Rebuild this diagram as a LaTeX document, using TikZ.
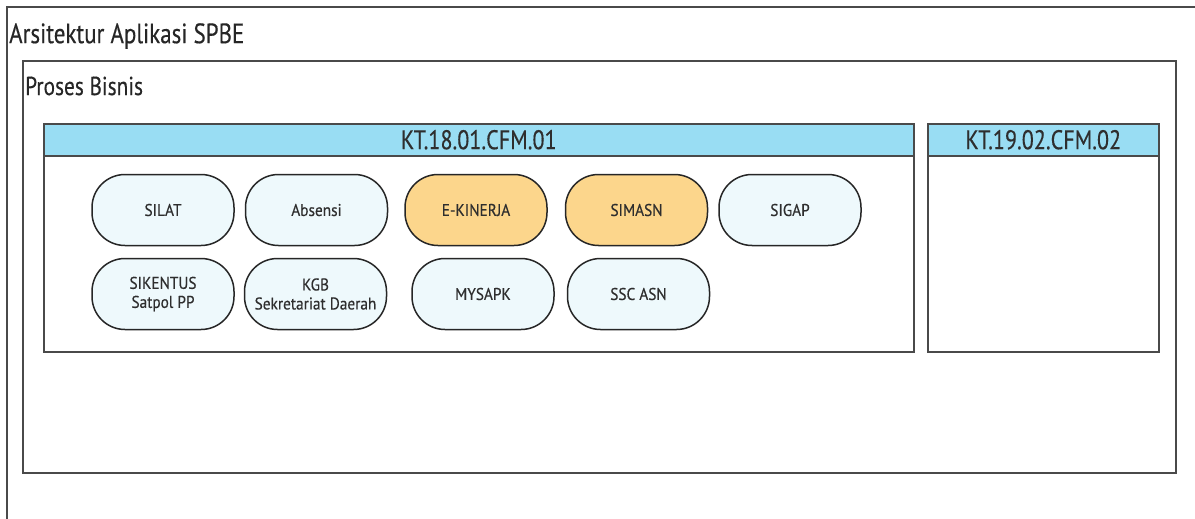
\documentclass[tikz,border=0pt]{standalone}
\usepackage{fontspec}
\setmainfont{PT Sans}[FakeStretch=0.82, FakeBold=0.3]
\newfontfamily\appfont{PT Sans}[FakeStretch=0.9, FakeBold=0.4]
\usepackage{xcolor}
\usetikzlibrary{positioning}

\definecolor{hdrblue}{HTML}{99DDF3}
\definecolor{appfill}{HTML}{EEF9FC}
\definecolor{appgold}{HTML}{FCD68C}
\definecolor{linegray}{HTML}{4A4A4A}
\definecolor{txtgray}{HTML}{2E2E2E}

\begin{document}
\begin{tikzpicture}[
  x=1pt, y=-1pt,
  frame/.style={draw=linegray, line width=1.6pt, inner sep=0pt, anchor=north west},
  cfmbox/.style={draw=linegray, line width=1.5pt, fill=white, inner sep=0pt, anchor=north west, minimum height=228pt},
  cfmhead/.style={draw=linegray, line width=1.5pt, fill=hdrblue, inner sep=0pt, anchor=north west, minimum height=32pt, font=\fontsize{27}{29}\selectfont, text=txtgray},
  app/.style={rectangle, draw=black!85, line width=1.5pt, fill=appfill, rounded corners=33pt, minimum width=142pt, minimum height=71pt, inner sep=2pt, align=center, font=\appfont\fontsize{17}{19}\selectfont, text=txtgray},
  appkey/.style={app, fill=appgold},
  title/.style={anchor=west, inner sep=0pt, text=black!85},
]
  \useasboundingbox (0,0) rectangle (1195,519);

  % outer frame, cut by the page on the right and bottom
  \coordinate (oBL) at (7,519);
  \coordinate (oTL) at (7,7);
  \coordinate (oTR) at (1195,7);
  \draw[linegray, line width=1.8pt] (oBL) -- (oTL) -- (oTR);
  \node[title, font=\fontsize{28}{30}\selectfont] (ttl) at (9,36) {Arsitektur Aplikasi SPBE};

  % business process
  \node[frame, minimum width=1153pt, minimum height=412pt] (pb) at (22,60) {};
  \node[title, font=\fontsize{26}{28}\selectfont] (pbl) at (25,86) {Proses Bisnis};

  % capability groups
  \node[cfmbox, minimum width=870pt] (c1) at (43,123) {};
  \node[cfmhead, minimum width=870pt] (h1) at (43,123) {KT.18.01.CFM.01};
  \node[cfmbox, minimum width=231pt] (c2) at (927,123) {};
  \node[cfmhead, minimum width=231pt] (h2) at (927,123) {KT.19.02.CFM.02};

  % applications
  \node[app] (silat) at (163,210) {SILAT};
  \node[app, right=10pt of silat] (absensi) {Absensi};
  \node[appkey, right=16pt of absensi] (ekinerja) {E-KINERJA};
  \node[appkey, right=17pt of ekinerja] (simasn) {SIMASN};
  \node[app, right=10pt of simasn] (sigap) {SIGAP};

  \node[app] (sikentus) at (163,294) {SIKENTUS\\Satpol PP};
  \node[app, right=9pt of sikentus] (kgb) {KGB\\Sekretariat Daerah};
  \node[app, right=24pt of kgb] (mysapk) {MYSAPK};
  \node[app, right=12pt of mysapk] (sscasn) {SSC ASN};
\end{tikzpicture}
\end{document}
